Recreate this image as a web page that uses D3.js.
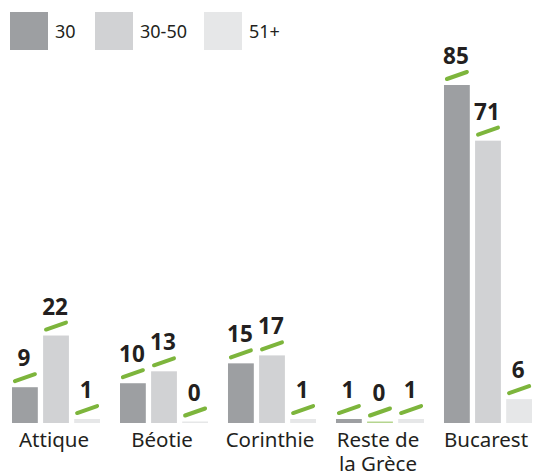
<!DOCTYPE html>
<html>
<head>
<meta charset="utf-8">
<script src="https://cdn.jsdelivr.net/npm/d3@7"></script>
<style>
  body { margin: 0; background: #fff; }
  svg { display: block; font-family: "Noto Sans", sans-serif; }
</style>
</head>
<body>
<svg></svg>
<script>
// Chart size
const width = 533;
const height = 475;
const svg = d3.select("svg")
    .attr("width", width)
    .attr("height", height);

// Data
const regions = ["Attique", "Béotie", "Corinthie", "Reste de\nla Grèce", "Bucarest"];
const ageGroups = ["30", "30-50", "51+"];
const values30 = [9, 10, 15, 1, 85];
const values3050 = [22, 13, 17, 0, 71];
const values51 = [1, 0, 1, 1, 6];

const colors = ["#9d9fa2", "#d1d2d4", "#e6e7e8"];
const green = "#7db53c";
const textColor = "#231f20";

// Build rows for drawing
const series = [values30, values3050, values51];
const rows = regions.map((r, i) => ({
    region: r,
    bars: ageGroups.map((g, j) => ({ group: g, idx: j, value: series[j][i] }))
}));

// Scales
const baseline = 423;
const x0 = d3.scaleBand()
    .domain(regions)
    .range([12, 532])
    .paddingInner(0.185)
    .paddingOuter(0);

const x1 = d3.scaleBand()
    .domain(ageGroups)
    .range([0, x0.bandwidth()])
    .paddingInner(0.17)
    .paddingOuter(0);

const y = d3.scaleLinear()
    .domain([0, 85])
    .range([baseline, 85]);

// top of a bar, zero values still get a hairline
const barTop = d => Math.min(y(d.value), baseline - 1.5);

// Groups
const groups = svg.selectAll(".grp")
    .data(rows)
    .enter()
    .append("g")
    .attr("class", "grp")
    .attr("transform", d => `translate(${x0(d.region)},0)`);

// Bars
groups.selectAll("rect")
    .data(d => d.bars)
    .enter()
    .append("rect")
    .attr("x", d => x1(d.group))
    .attr("width", x1.bandwidth())
    .attr("y", barTop)
    .attr("height", d => baseline - barTop(d))
    .attr("fill", d => d.value === 0 && d.idx === 1 ? "#b5d58f" : colors[d.idx]);

// Green tilted markers above each bar
groups.selectAll(".mark")
    .data(d => d.bars)
    .enter()
    .append("line")
    .attr("class", "mark")
    .attr("x1", d => x1(d.group) + x1.bandwidth() / 2 - 10)
    .attr("x2", d => x1(d.group) + x1.bandwidth() / 2 + 10)
    .attr("y1", d => barTop(d) - 6)
    .attr("y2", d => barTop(d) - 13)
    .attr("stroke", green)
    .attr("stroke-width", 4)
    .attr("stroke-linecap", "round");

// Value labels
groups.selectAll(".val")
    .data(d => d.bars)
    .enter()
    .append("text")
    .attr("class", "val")
    .attr("x", d => x1(d.group) + x1.bandwidth() / 2 - 1)
    .attr("y", d => barTop(d) - 21)
    .attr("text-anchor", "middle")
    .attr("font-size", 22.5)
    .attr("font-weight", "bold")
    .attr("fill", textColor)
    .text(d => d.value);

// Category labels
groups.append("text")
    .attr("y", 447)
    .attr("text-anchor", "middle")
    .attr("font-size", 20.5)
    .attr("fill", textColor)
    .selectAll("tspan")
    .data(d => d.region.split("\n"))
    .enter()
    .append("tspan")
    .attr("x", x0.bandwidth() / 2 - 2)
    .attr("dy", (d, i) => i === 0 ? 0 : 24)
    .text(d => d);

// Legend
const legendX = [10, 95, 204];
const legend = svg.selectAll(".leg")
    .data(ageGroups)
    .enter()
    .append("g")
    .attr("class", "leg")
    .attr("transform", (d, i) => `translate(${legendX[i]},12)`);

legend.append("rect")
    .attr("width", 38)
    .attr("height", 38)
    .attr("fill", (d, i) => colors[i]);

legend.append("text")
    .attr("x", 45)
    .attr("y", 26)
    .attr("font-size", 18)
    .attr("fill", textColor)
    .text(d => d);
</script>
</body>
</html>
